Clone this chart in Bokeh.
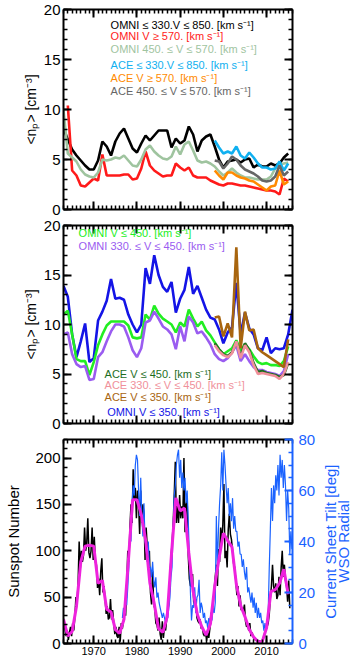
import math
from bokeh.plotting import figure
from bokeh.models import LinearAxis, Range1d, SingleIntervalTicker, Label
from bokeh.layouts import column, row
from bokeh.embed import file_html
from bokeh.resources import INLINE

FONT = "Liberation Sans"

# ---------------- data ----------------
omni_years = list(range(1963, 2016))
ace_years = list(range(1998, 2016))

# panel 1: OMNI densities
omni_330_850 = [8.1, 7.0, 6.0, 5.4, 4.9, 4.4, 4.0, 4.0, 4.9, 6.8,
                6.3, 5.4, 6.8, 7.6, 8.1, 7.1, 6.1, 5.7, 6.6, 7.4,
                6.9, 7.4, 7.9, 7.9, 7.9, 6.2, 7.1, 6.6, 6.9, 8.3,
                7.5, 5.8, 6.9, 7.3, 7.5, 6.3, 5.0, 4.2, 4.8, 4.9,
                5.0, 4.7, 5.0, 5.1, 4.2, 4.5, 4.3, 4.3, 4.6, 4.4,
                4.6, 5.2, 5.6]
omni_fast_years = list(range(1964, 2016))
omni_ge570 = [10.4, 3.9, 3.4, 2.4, 2.3, 2.7, 3.1, 2.9, 5.5,
              3.4, 3.4, 3.4, 3.4, 3.5, 3.5, 3.0, 3.1, 4.1, 5.8,
              4.4, 3.9, 3.6, 3.3, 3.4, 3.4, 4.6, 4.2, 3.9, 4.2,
              3.4, 3.2, 3.2, 3.2, 2.9, 2.7, 2.5, 2.4, 2.6, 2.6,
              2.5, 2.4, 2.4, 2.3, 2.2, 2.1, 2.0, 1.9, 1.9, 1.8,
              1.5, 3.1, 2.8]
omni_450_570 = [9.9, 5.6, 5.2, 4.8, 4.0, 3.5, 3.3, 3.2, 3.7, 5.0,
                4.9, 5.0, 5.2, 5.1, 5.4, 4.9, 4.4, 4.3, 5.0, 6.0,
                6.4, 5.8, 5.4, 5.1, 5.0, 5.3, 6.3, 5.5, 6.5, 6.8,
                5.9, 4.9, 4.7, 4.8, 4.6, 4.3, 3.8, 3.4, 3.7, 4.1,
                3.7, 3.4, 3.2, 3.2, 3.1, 3.0, 3.0, 3.0, 3.3, 4.1,
                4.5, 4.6, 4.7]
# panel 1: ACE densities
ace_330_850 = [6.9, 6.2, 5.6, 5.8, 5.6, 6.3, 5.4, 5.1, 5.7, 5.2, 4.6, 4.2, 4.2, 4.0, 4.1, 4.8, 3.9, 4.6]
ace_ge570 = [3.9, 3.4, 3.0, 3.7, 3.7, 3.4, 3.2, 3.1, 2.9, 2.8, 2.5, 2.2, 1.9, 2.3, 2.4, 3.9, 2.5, 2.8]
ace_450_570 = [4.9, 4.8, 4.1, 4.6, 5.3, 5.0, 4.4, 4.0, 3.8, 3.6, 3.3, 2.9, 2.8, 2.9, 3.3, 4.4, 3.4, 3.8]

# panel 2: OMNI slow wind densities
omni_le450 = [11.0, 11.4, 9.0, 6.5, 6.3, 6.3, 4.9, 6.2, 7.9, 9.0,
              9.9, 10.3, 10.3, 10.3, 10.3, 9.9, 8.7, 8.6, 8.7, 11.0,
              10.5, 11.9, 11.1, 10.6, 10.3, 10.0, 9.2, 10.2, 9.8, 11.5,
              10.6, 9.8, 10.3, 9.4, 8.9, 8.2, 7.5, 7.0, 7.3, 7.6,
              8.4, 7.4, 8.0, 7.5, 6.8, 6.2, 6.0, 6.1, 5.9, 5.9,
              5.8, 6.3, 7.8]
omni_330_450 = [9.0, 9.2, 7.0, 6.0, 5.7, 5.8, 4.4, 4.5, 6.7, 7.2,
                8.3, 9.3, 10.0, 10.0, 9.8, 8.7, 7.4, 6.7, 7.6, 10.2,
                10.4, 11.3, 10.6, 9.8, 9.5, 9.0, 7.5, 9.8, 8.3, 10.8,
                10.2, 9.1, 9.3, 8.7, 8.0, 7.0, 6.5, 6.3, 6.6, 7.2,
                7.9, 6.3, 7.0, 6.3, 5.7, 5.4, 5.4, 5.2, 5.1, 5.0,
                4.8, 5.3, 7.0]
omni_le350_years = list(range(1963, 2017))
omni_le350 = [13.9, 12.8, 9.0, 6.7, 8.3, 10.1, 6.2, 6.6, 10.4, 11.3,
              12.4, 14.6, 12.6, 12.7, 12.5, 11.0, 10.0, 9.2, 10.0, 15.7,
              14.1, 17.0, 15.0, 13.8, 13.3, 14.3, 11.2, 12.6, 13.5, 15.8,
              13.1, 13.9, 12.7, 11.5, 10.7, 10.5, 9.5, 8.1, 9.2, 9.7,
              14.2, 9.0, 11.2, 9.6, 9.0, 7.6, 7.4, 8.7, 7.1, 7.6,
              7.5, 7.6, 9.0, 11.5]
# panel 2: ACE slow wind densities
ace_le450 = [8.1, 7.5, 7.0, 6.8, 7.2, 8.3, 6.8, 8.1, 7.4, 6.1, 5.2, 5.3, 5.1, 5.0, 4.9, 4.7, 4.9, 6.1]
ace_330_450 = [7.9, 7.3, 6.9, 6.7, 7.1, 8.3, 6.6, 7.9, 7.2, 5.9, 5.0, 5.1, 5.0, 4.9, 4.8, 4.5, 5.0, 6.2]
ace_le350 = [10.7, 10.8, 8.8, 10.1, 8.7, 17.8, 7.6, 11.3, 9.4, 9.5, 7.6, 7.2, 6.9, 6.6, 6.3, 6.0, 5.7, 8.5]

# panel 3: sunspot number, yearly means (magenta)
ssn_yearly = [26, 8, 13, 40, 88, 105, 106, 105, 65, 68,
              37, 34, 15, 11, 26, 88, 155, 155, 139, 112,
              65, 43, 16, 12, 29, 97, 157, 143, 146, 98,
              56, 31, 18, 9, 21, 62, 92, 119, 111, 104,
              64, 41, 29, 15, 7, 2, 2, 17, 56, 58,
              65, 80, 53]
# sunspot number, quarterly samples 1963-2015 (black)
ssn_quarterly = [45, 30, 22, 15, 8, 14, 4, 12, 18, 8, 22, 14, 28, 50, 42, 65,
                 110, 80, 100, 88, 95, 125, 100, 108, 135, 98, 92, 100, 125, 90, 115, 88,
                 85, 60, 70, 52, 78, 92, 55, 62, 48, 32, 40, 26, 28, 48, 26, 36,
                 22, 10, 18, 8, 6, 18, 2, 22, 16, 24, 38, 30, 60, 100, 88, 125,
                 150, 130, 188, 155, 168, 135, 165, 150, 118, 165, 130, 150, 140, 90, 125, 105,
                 82, 100, 55, 42, 78, 42, 38, 22, 20, 14, 28, 10, 4, 24, 6, 18,
                 14, 26, 34, 44, 70, 92, 108, 128, 160, 196, 130, 150, 130, 160, 135, 148,
                 135, 200, 120, 150, 155, 95, 70, 62, 62, 75, 45, 42, 48, 28, 24, 22,
                 26, 16, 18, 10, 8, 12, 3, 12, 6, 16, 32, 34, 42, 58, 72, 85,
                 62, 102, 88, 125, 110, 128, 172, 92, 100, 82, 122, 140, 118, 112, 100, 86,
                 82, 68, 52, 62, 40, 52, 36, 38, 35, 42, 24, 18, 20, 14, 22, 8,
                 12, 8, 4, 6, 3, 4, 1, 3, 1, 3, 4, 8, 12, 15, 18, 22,
                 32, 50, 62, 85, 62, 55, 65, 48, 52, 72, 52, 82, 100, 72, 85, 68,
                 62, 45, 68, 38]
# WSO current sheet tilt, quarterly samples from mid-1976 (blue)
tilt_quarterly = [10, 14, 12, 18, 15, 22, 30, 45, 40, 55,
                  62, 58, 70, 74, 72, 60, 50, 65, 50, 42, 55, 40,
                  38, 32, 40, 30, 30, 26, 32, 25, 22, 26, 18, 20,
                  16, 14, 12, 10, 12, 10, 8, 12, 10, 14, 18, 26,
                  30, 45, 58, 62, 70, 74, 76, 65, 72, 61, 67, 60,
                  65, 55, 60, 48, 35, 20, 9, 15, 14, 22, 12, 18,
                  19, 25, 12, 16, 14, 10, 12, 8, 9, 6, 10, 8,
                  12, 9, 14, 12, 16, 50, 30, 45, 55, 62, 75, 60,
                  76, 70, 62, 55, 61, 50, 55, 48, 57, 45, 50, 44,
                  44, 38, 40, 35, 35, 30, 33, 28, 25, 30, 20, 22,
                  19, 16, 20, 14, 18, 12, 16, 10, 14, 10, 12, 8,
                  9, 5, 8, 5, 8, 12, 30, 45, 61, 48, 62, 55,
                  66, 60, 70, 58, 74, 65, 72, 61, 70, 62, 48, 60,
                  53, 35, 44, 37]

# ---------------- layout ----------------
W = 350
BL = 63
FRAME_W = 229
TITLE_W = 30
X0, X1 = 1963, 2016


def style_axis(ax, color="black", labels=True, size="15px"):
    ax.axis_line_color = color
    ax.axis_line_width = 2
    ax.major_tick_line_color = color
    ax.minor_tick_line_color = color
    ax.major_tick_line_width = 2
    ax.minor_tick_line_width = 1.5
    ax.major_tick_in = 8
    ax.major_tick_out = 0
    ax.minor_tick_in = 4
    ax.minor_tick_out = 0
    ax.major_label_text_font = FONT
    if labels:
        ax.major_label_text_color = color
        ax.major_label_text_font_size = size
        ax.major_label_standoff = 3
    else:
        ax.major_label_text_color = None
        ax.major_label_text_font_size = "1px"
        ax.major_label_standoff = 0
    ax.axis_label_text_font = FONT
    ax.axis_label_text_font_style = "normal"
    ax.axis_label_text_color = color
    ax.axis_label_text_font_size = "15px"
    ax.axis_label_standoff = 2


def make_panel(width, height, top, bottom, ymax, ymaj, ymin, xlabels):
    p = figure(width=width, height=height, x_range=Range1d(X0, X1), y_range=Range1d(0, ymax),
               output_backend="svg", toolbar_location=None,
               min_border_left=BL, min_border_right=width - BL - FRAME_W,
               min_border_top=top, min_border_bottom=bottom)
    p.outline_line_color = None
    p.xgrid.visible = False
    p.ygrid.visible = False
    p.background_fill_color = "white"
    p.border_fill_color = "white"
    p.xaxis.ticker = SingleIntervalTicker(interval=10, num_minor_ticks=10)
    p.yaxis.ticker = SingleIntervalTicker(interval=ymaj, num_minor_ticks=ymin)
    style_axis(p.xaxis[0], labels=xlabels, size="11px")
    style_axis(p.yaxis[0])
    top_ax = LinearAxis(ticker=SingleIntervalTicker(interval=10, num_minor_ticks=10))
    style_axis(top_ax, labels=False)
    p.add_layout(top_ax, "above")
    return p


def add_label(p, x, y, text, color):
    p.add_layout(Label(x=x, y=y, text=text, text_color=color, text_font=FONT,
                       text_font_size="11px", text_baseline="middle", text_align="left"))


# ---- panel 1 ----
p1 = make_panel(W, 217, 9, 8, 20, 5, 5, False)
r1 = LinearAxis(ticker=SingleIntervalTicker(interval=5, num_minor_ticks=5))
style_axis(r1, labels=False)
p1.add_layout(r1, "right")
p1.yaxis[0].axis_label = "<nₚ> [cm⁻³]"
p1.yaxis[0].axis_label_text_font_size = "14px"

LW = 2.6
p1.line(omni_years, omni_330_850, color="black", line_width=LW)
p1.line(omni_fast_years, omni_ge570, color="#ff1a1a", line_width=LW)
p1.line(omni_years, omni_450_570, color="#9fc49f", line_width=LW)
p1.line(ace_years, ace_330_850, color="#10b0f0", line_width=LW)
p1.line(ace_years, ace_ge570, color="#ff8a00", line_width=LW)
p1.line(ace_years, ace_450_570, color="#666666", line_width=LW)

add_label(p1, 1973.9, 18.5, "OMNI ≤ 330.V ≤ 850. [km s⁻¹]", "black")
add_label(p1, 1973.9, 17.4, "OMNI V ≥ 570. [km s⁻¹]", "#ff1a1a")
add_label(p1, 1973.9, 16.1, "OMNI 450.  ≤ V ≤ 570. [km s⁻¹]", "#9fc49f")
add_label(p1, 1973.9, 14.5, "ACE ≤ 330.V ≤ 850. [km s⁻¹]", "#10b0f0")
add_label(p1, 1973.9, 13.2, "ACE V ≥ 570. [km s⁻¹]", "#ff8a00")
add_label(p1, 1973.9, 11.9, "ACE 450.  ≤ V ≤ 570. [km s⁻¹]", "#666666")

# ---- panel 2 ----
p2 = make_panel(W, 214, 8, 8, 20, 5, 5, False)
r2 = LinearAxis(ticker=SingleIntervalTicker(interval=5, num_minor_ticks=5))
style_axis(r2, labels=False)
p2.add_layout(r2, "right")
p2.yaxis[0].axis_label = "<nₚ> [cm⁻³]"
p2.yaxis[0].axis_label_text_font_size = "14px"

p2.line(omni_le350_years, omni_le350, color="#1414e6", line_width=LW)
p2.line(omni_years, omni_le450, color="#22ee22", line_width=LW)
p2.line(omni_years, omni_330_450, color="#9a5cf0", line_width=LW)
p2.line(ace_years, ace_le450, color="#1e6e1e", line_width=LW)
p2.line(ace_years, ace_330_450, color="#f0909a", line_width=LW)
p2.line(ace_years, ace_le350, color="#a8650f", line_width=LW)

add_label(p2, 1966.5, 19.2, "OMNI V ≤ 450. [km s⁻¹]", "#22ee22")
add_label(p2, 1966.5, 17.9, "OMNI 330.  ≤ V ≤ 450. [km s⁻¹]", "#9a5cf0")
add_label(p2, 1972.5, 5.0, "ACE V ≤ 450. [km s⁻¹]", "#1e6e1e")
add_label(p2, 1972.5, 3.9, "ACE 330. ≤ V ≤ 450. [km s⁻¹]", "#f0909a")
add_label(p2, 1972.5, 2.7, "ACE V ≤ 350. [km s⁻¹]", "#a8650f")
add_label(p2, 1973.1, 1.15, "OMNI V ≤ 350. [km s⁻¹]", "#1414e6")

# ---- panel 3 ----
TILT = "#1a62ff"
H3, T3, B3 = 230, 8, 18
p3 = make_panel(W - TITLE_W, H3, T3, B3, 220, 50, 5, True)
p3.extra_y_ranges = {"tilt": Range1d(0, 80)}
r3 = LinearAxis(y_range_name="tilt", ticker=SingleIntervalTicker(interval=20, num_minor_ticks=4))
style_axis(r3, color=TILT)
r3.major_label_text_font_size = "15px"
r3.major_label_standoff = 6
p3.add_layout(r3, "right")
p3.yaxis[0].axis_label = "Sunspot Number"
p3.yaxis[0].axis_label_standoff = 10

q_x = [X0 - 0.375 + 0.25 * i for i in range(len(ssn_quarterly))]
t_x = [1976.625 + 0.25 * i for i in range(len(tilt_quarterly))]
p3.line(q_x, ssn_quarterly, color="black", line_width=1.5)
p3.line(t_x, tilt_quarterly, color=TILT, line_width=1.2, y_range_name="tilt")
p3.line(omni_years, ssn_yearly, color="#ee22dd", line_width=3)

# right-hand axis title (two centred lines, reading bottom to top)
pt = figure(width=TITLE_W, height=H3, x_range=Range1d(0, TITLE_W), y_range=Range1d(0, 80),
            output_backend="svg", toolbar_location=None, x_axis_type=None, y_axis_type=None,
            min_border_left=0, min_border_right=0, min_border_top=T3, min_border_bottom=B3)
pt.outline_line_color = None
pt.xgrid.visible = False
pt.ygrid.visible = False
for xc, txt in ((9.5, "Current Sheet Tilt [deg]"), (22.5, "WSO Radial")):
    pt.add_layout(Label(x=xc, y=40, text=txt, angle=math.pi / 2, text_color=TILT,
                        text_font=FONT, text_font_size="15px",
                        text_align="center", text_baseline="middle"))

layout = column(p1, p2, row(p3, pt))
open("out.html", "w").write(file_html(layout, INLINE))
